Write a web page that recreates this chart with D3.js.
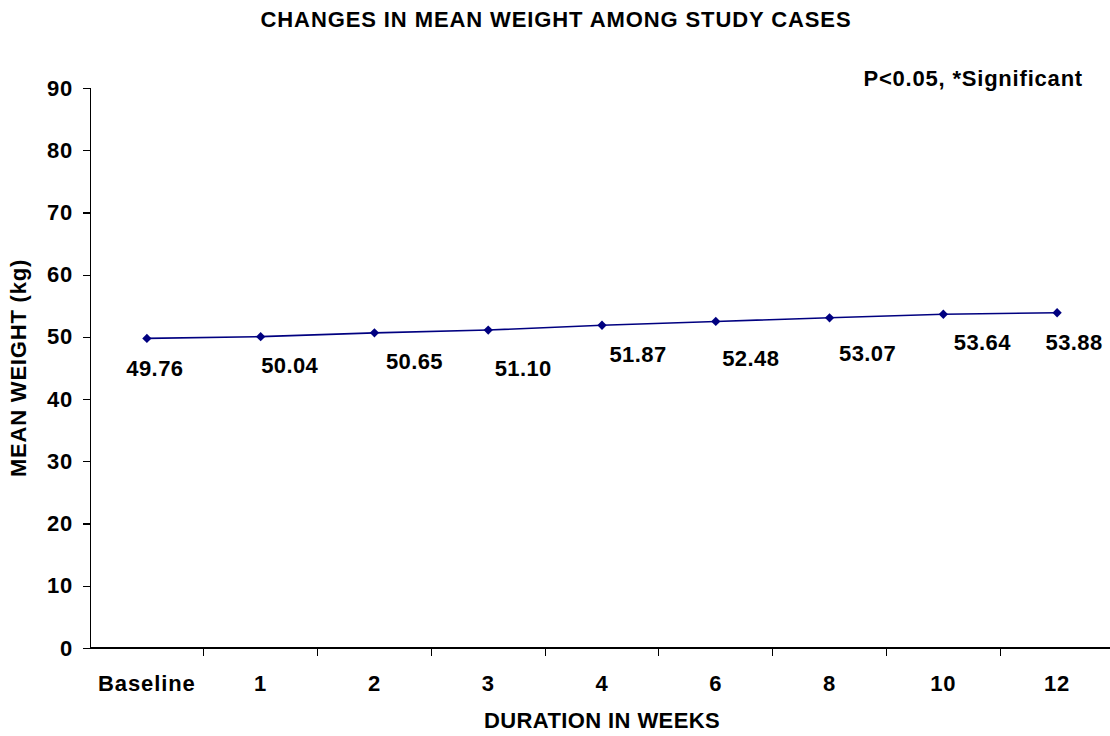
<!DOCTYPE html>
<html>
<head>
<meta charset="utf-8">
<script src="https://cdn.jsdelivr.net/npm/d3@7"></script>
<style>
    body { margin: 0; background: #fff; }
    svg text { font-family: "Liberation Sans", Arial, sans-serif; font-weight: bold; fill: #000; }
    .axis path, .axis line { stroke: #000; stroke-width: 1.2; shape-rendering: crispEdges; }
</style>
</head>
<body>
<svg id="chart"></svg>
<script>
var weeks = ["Baseline", "1", "2", "3", "4", "6", "8", "10", "12"];
var meanWeight = [49.76, 50.04, 50.65, 51.10, 51.87, 52.48, 53.07, 53.64, 53.88];
var yTicks = [0, 10, 20, 30, 40, 50, 60, 70, 80, 90];

// hand-placed label offsets (dx, dy) from each point, like in the original
var labelNudge = [[8, 38], [29, 36], [40, 36], [35, 46], [36, 37], [35, 45], [38, 43], [39, 36], [17, 37]];

var W = 1110, H = 736;
var margin = { top: 88, right: -4, bottom: 88, left: 90 };
var width = W - margin.left - margin.right;
var height = H - margin.top - margin.bottom;

var svg = d3.select("#chart")
    .attr("width", W)
    .attr("height", H);

var chart = svg.append("g")
    .attr("transform", "translate(" + margin.left + "," + margin.top + ")");

var x = d3.scaleBand()
    .domain(weeks)
    .range([0, width]);

var y = d3.scaleLinear()
    .domain([0, 90])
    .range([height, 0]);

var yAxis = d3.axisLeft(y)
    .tickValues(yTicks)
    .tickSize(7)
    .tickPadding(10);

var gy = chart.append("g")
    .attr("class", "axis")
    .call(yAxis);
gy.selectAll("text").style("font-size", "22px").style("letter-spacing", "0.8px");

var gx = chart.append("g")
    .attr("class", "axis")
    .attr("transform", "translate(0," + height + ")")
    .call(d3.axisBottom(x).tickSize(0).tickPadding(27));
gx.select(".domain").attr("d", "M0,0H" + width);
gx.selectAll("text").style("font-size", "22px").style("letter-spacing", "0.9px");

// ticks sit between categories
gx.selectAll(".sep")
    .data(weeks.slice(1))
.enter().append("line")
    .attr("x1", function(d) { return x(d); })
    .attr("x2", function(d) { return x(d); })
    .attr("y1", 0)
    .attr("y2", 8);

var line = d3.line()
    .x(function(d, i) { return x(weeks[i]) + x.bandwidth() / 2; })
    .y(function(d) { return y(d); });

chart.append("path")
    .datum(meanWeight)
    .attr("d", line)
    .attr("fill", "none")
    .attr("stroke", "#000080")
    .attr("stroke-width", 1.6);

chart.selectAll(".pt")
    .data(meanWeight)
.enter().append("path")
    .attr("class", "pt")
    .attr("d", d3.symbol().type(d3.symbolDiamond2).size(55))
    .attr("transform", function(d, i) {
        return "translate(" + (x(weeks[i]) + x.bandwidth() / 2) + "," + y(d) + ")";
    })
    .attr("fill", "#000080");

chart.selectAll(".lbl")
    .data(meanWeight)
.enter().append("text")
    .attr("class", "lbl")
    .attr("x", function(d, i) { return x(weeks[i]) + x.bandwidth() / 2 + labelNudge[i][0]; })
    .attr("y", function(d, i) { return y(d) + labelNudge[i][1]; })
    .attr("text-anchor", "middle")
    .style("font-size", "22px")
    .style("letter-spacing", "0.4px")
    .text(function(d) { return d.toFixed(2); });

svg.append("text")
    .attr("x", 556)
    .attr("y", 27)
    .attr("text-anchor", "middle")
    .style("font-size", "22px")
    .style("letter-spacing", "0.9px")
    .text("CHANGES IN MEAN WEIGHT AMONG STUDY CASES");

svg.append("text")
    .attr("x", 1083)
    .attr("y", 86)
    .attr("text-anchor", "end")
    .style("font-size", "22px")
    .style("letter-spacing", "0.8px")
    .text("P<0.05, *Significant");

svg.append("text")
    .attr("x", margin.left + width / 2)
    .attr("y", 728)
    .attr("text-anchor", "middle")
    .style("font-size", "22px")
    .style("letter-spacing", "0.4px")
    .text("DURATION IN WEEKS");

svg.append("text")
    .attr("transform", "translate(26," + (margin.top + height / 2) + ") rotate(-90)")
    .attr("text-anchor", "middle")
    .style("font-size", "22px")
    .style("letter-spacing", "0.8px")
    .text("MEAN WEIGHT (kg)");
</script>
</body>
</html>
